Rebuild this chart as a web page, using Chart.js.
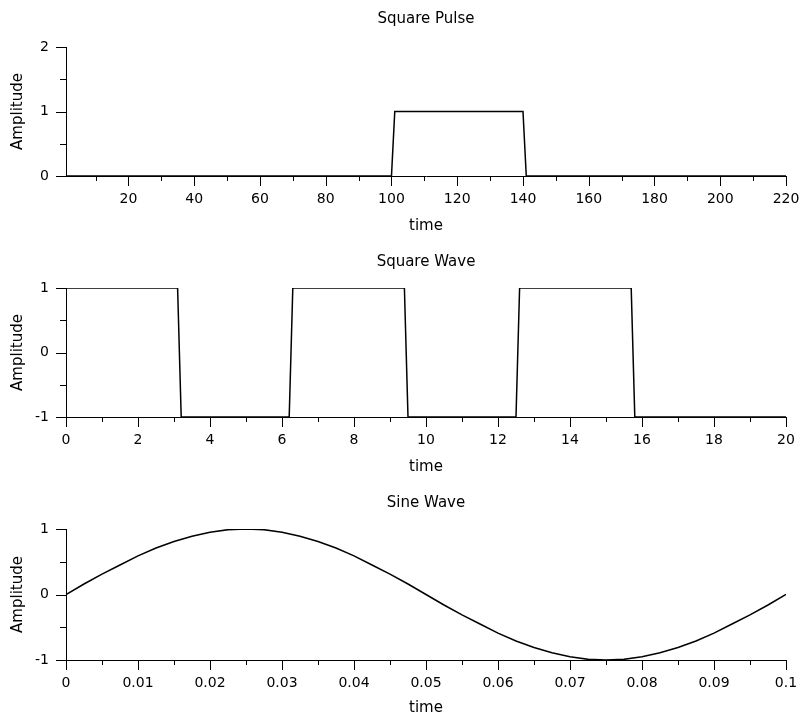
<!DOCTYPE html>
<html>
<head>
<meta charset="utf-8">
<script src="https://cdn.jsdelivr.net/npm/chart.js@4.4.0/dist/chart.umd.min.js"></script>
<style>
html, body { margin: 0; padding: 0; background: #fff; }
canvas { display: block; }
</style>
</head>
<body>
<canvas id="pulse" width="804" height="241"></canvas>
<canvas id="wave" width="804" height="241"></canvas>
<canvas id="sine" width="804" height="241"></canvas>
<script>
// square pulse samples
var pulseTime = [1, 100, 101, 140, 141, 220];
var pulseAmp = [0, 0, 1, 1, 0, 0];
var pulseXTicks = [20, 40, 60, 80, 100, 120, 140, 160, 180, 200, 220];
var pulseXMinor = [10, 30, 50, 70, 90, 110, 130, 150, 170, 190, 210];
var pulseYTicks = [0, 1, 2];
var pulseYMinor = [0.5, 1.5];

// square wave samples (only where it switches)
var waveTime = [0, 3.1, 3.2, 6.2, 6.3, 9.4, 9.5, 12.5, 12.6, 15.7, 15.8, 20];
var waveAmp = [1, 1, -1, -1, 1, 1, -1, -1, 1, 1, -1, -1];
var waveXTicks = [0, 2, 4, 6, 8, 10, 12, 14, 16, 18, 20];
var waveXMinor = [1, 3, 5, 7, 9, 11, 13, 15, 17, 19];

// sine wave
var sineTime = [0, 0.0025, 0.005, 0.0075, 0.01, 0.0125, 0.015, 0.0175, 0.02, 0.0225,
    0.025, 0.0275, 0.03, 0.0325, 0.035, 0.0375, 0.04, 0.0425, 0.045, 0.0475,
    0.05, 0.0525, 0.055, 0.0575, 0.06, 0.0625, 0.065, 0.0675, 0.07, 0.0725,
    0.075, 0.0775, 0.08, 0.0825, 0.085, 0.0875, 0.09, 0.0925, 0.095, 0.0975, 0.1];
var sineAmp = [0, 0.16, 0.31, 0.45, 0.59, 0.71, 0.81, 0.89, 0.95, 0.99,
    1, 0.99, 0.95, 0.89, 0.81, 0.71, 0.59, 0.45, 0.31, 0.16,
    0, -0.16, -0.31, -0.45, -0.59, -0.71, -0.81, -0.89, -0.95, -0.99,
    -1, -0.99, -0.95, -0.89, -0.81, -0.71, -0.59, -0.45, -0.31, -0.16, 0];
var sineXTicks = [0, 0.01, 0.02, 0.03, 0.04, 0.05, 0.06, 0.07, 0.08, 0.09, 0.1];
var sineXMinor = [0.005, 0.015, 0.025, 0.035, 0.045, 0.055, 0.065, 0.075, 0.085, 0.095];

var ampTicks = [-1, 0, 1];
var ampMinor = [-0.5, 0.5];

Chart.defaults.font.family = "'DejaVu Sans', sans-serif";
Chart.defaults.color = '#000';

// tick marks drawn outside the axes, long for labelled ticks and short between
var tickMarks = {
    id: 'tickMarks',
    afterDraw: function (chart, args, o) {
        var ctx = chart.ctx, x = chart.scales.x, y = chart.scales.y;
        ctx.save();
        ctx.strokeStyle = '#000';
        ctx.lineWidth = 1;
        ctx.beginPath();
        function xt(v, len) {
            var p = Math.round(x.getPixelForValue(v)) + 0.5;
            ctx.moveTo(p, x.top);
            ctx.lineTo(p, x.top + len);
        }
        function yt(v, len) {
            var p = Math.round(y.getPixelForValue(v)) + 0.5;
            ctx.moveTo(y.right, p);
            ctx.lineTo(y.right - len, p);
        }
        o.xMajor.forEach(function (v) { xt(v, 10); });
        o.xMinor.forEach(function (v) { xt(v, 5); });
        o.yMajor.forEach(function (v) { yt(v, 10); });
        o.yMinor.forEach(function (v) { yt(v, 6); });
        ctx.stroke();
        ctx.restore();
    }
};

function makeChart(id, title, xs, ys, c) {
    var pts = xs.map(function (t, i) { return {x: t, y: ys[i]}; });
    return new Chart(document.getElementById(id), {
        type: 'line',
        data: {
            datasets: [{
                data: pts,
                borderColor: '#000',
                borderWidth: 1.5,
                pointRadius: 0,
                tension: 0,
                fill: false
            }]
        },
        options: {
            responsive: false,
            animation: false,
            layout: {padding: {left: 0, right: 18, top: 0, bottom: 0}},
            plugins: {
                legend: {display: false},
                tooltip: {enabled: false},
                title: {
                    display: true,
                    fullSize: false,
                    text: title,
                    color: '#000',
                    font: {size: 15, weight: 'normal'},
                    padding: {top: c.titleTop, bottom: c.titleBottom}
                },
                tickMarks: {xMajor: c.xTicks, xMinor: c.xMinor, yMajor: c.yTicks, yMinor: c.yMinor}
            },
            scales: {
                x: {
                    type: 'linear',
                    min: c.xMin,
                    max: c.xMax,
                    border: {display: true, color: '#000', width: 1},
                    grid: {display: false, drawTicks: false},
                    ticks: {
                        font: {size: 14},
                        color: '#000',
                        padding: 15,
                        maxRotation: 0,
                        autoSkip: false,
                        callback: function (v) { return String(parseFloat(v.toFixed(4))); }
                    },
                    afterBuildTicks: function (s) {
                        s.ticks = c.xTicks.map(function (v) { return {value: v}; });
                    },
                    afterFit: function (s) {
                        s.height = c.xAxisH;
                        s.paddingLeft = 0;
                        s.paddingRight = 0;
                    },
                    title: {
                        display: true,
                        text: 'time',
                        color: '#000',
                        font: {size: 15},
                        padding: {top: 0, bottom: 6}
                    }
                },
                y: {
                    min: c.yMin,
                    max: c.yMax,
                    border: {display: true, color: '#000', width: 1},
                    grid: {display: false, drawTicks: false},
                    ticks: {
                        font: {size: 14},
                        color: '#000',
                        padding: 17,
                        autoSkip: false
                    },
                    afterBuildTicks: function (s) {
                        s.ticks = c.yTicks.map(function (v) { return {value: v}; });
                    },
                    afterFit: function (s) {
                        s.width = 66;
                        s.paddingTop = 0;
                        s.paddingBottom = 0;
                    },
                    title: {
                        display: true,
                        text: 'Amplitude',
                        color: '#000',
                        font: {size: 15},
                        padding: {top: 9, bottom: 0}
                    }
                }
            }
        },
        plugins: [tickMarks]
    });
}

makeChart('pulse', 'Square Pulse', pulseTime, pulseAmp, {
    xMin: 1, xMax: 220, yMin: 0, yMax: 2,
    xTicks: pulseXTicks, xMinor: pulseXMinor, yTicks: pulseYTicks, yMinor: pulseYMinor,
    titleTop: 10, titleBottom: 19, xAxisH: 65
});

makeChart('wave', 'Square Wave', waveTime, waveAmp, {
    xMin: 0, xMax: 20, yMin: -1, yMax: 1,
    xTicks: waveXTicks, xMinor: waveXMinor, yTicks: ampTicks, yMinor: ampMinor,
    titleTop: 12, titleBottom: 17, xAxisH: 65
});

makeChart('sine', 'Sine Wave', sineTime, sineAmp, {
    xMin: 0, xMax: 0.1, yMin: -1, yMax: 1,
    xTicks: sineXTicks, xMinor: sineXMinor, yTicks: ampTicks, yMinor: ampMinor,
    titleTop: 12, titleBottom: 17, xAxisH: 63
});
</script>
</body>
</html>
